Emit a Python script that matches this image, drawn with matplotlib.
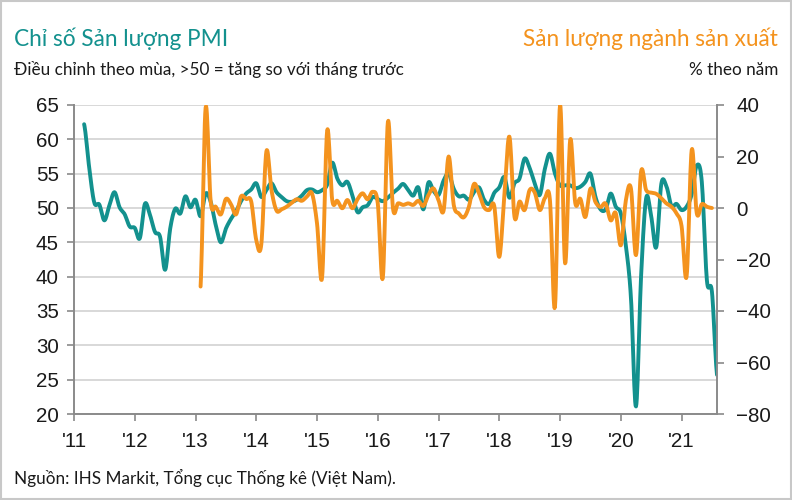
import numpy as np
import matplotlib
matplotlib.use("Agg")
import matplotlib.pyplot as plt
from matplotlib.patches import Rectangle

# ---------------- data ----------------
pmi_start = (2011, 3)          # first month of the PMI output series
pmi_output = [
    # 2011 (Mar-Dec)
    62.2, 55.9, 50.8, 50.5, 48.2, 50.4, 52.3, 50.1, 49.1, 47.3,
    # 2012
    47.1, 45.6, 50.6, 49.0, 46.5, 45.8, 41.0, 47.0, 49.9, 49.2, 51.7, 50.1,
    # 2013
    51.2, 48.8, 52.1, 50.9, 47.5, 45.0, 47.0, 48.4, 49.5, 51.0, 52.1, 52.7,
    # 2014
    53.6, 51.6, 52.6, 53.6, 52.3, 51.6, 51.0, 50.9, 51.2, 51.8, 52.6, 52.7,
    # 2015
    52.3, 52.6, 53.4, 56.6, 54.3, 53.3, 53.8, 51.8, 49.4, 50.1, 50.4, 51.6,
    # 2016
    51.3, 51.0, 51.5, 52.2, 52.8, 53.5, 52.6, 51.8, 53.0, 49.8, 53.7, 52.5,
    # 2017
    51.9, 54.0, 55.0, 52.8, 51.7, 51.8, 51.2, 52.3, 53.0, 51.2, 50.6, 52.2,
    # 2018
    53.0, 54.5, 51.5, 53.6, 54.3, 57.2, 55.8, 53.6, 51.9, 55.7, 57.9, 55.0,
    # 2019
    53.3, 53.3, 53.3, 52.9, 53.1, 53.8, 55.0, 51.6, 49.8, 49.8, 52.1, 50.2,
    # 2020
    49.2, 44.5, 37.0, 21.1, 40.0, 51.4, 48.8, 44.3, 53.5, 53.2, 50.3, 50.6,
    # 2021 (Jan-Aug)
    49.7, 50.2, 52.0, 56.2, 53.8, 39.5, 37.8, 25.7,
]

ip_start = (2013, 2)           # first month of the manufacturing output series
ip_yoy = [
    # 2013 (Feb-Dec)
    -30.5, 39.0, 2.5, 0.5, -2.5, 3.5, 1.5, -2.5, 4.5, 3.5, 2.5,
    # 2014
    -12.5, -14.0, 22.0, 7.0, -1.0, -0.5, 0.5, 2.0, 3.4, 2.8, 4.4, 5.7,
    # 2015
    -6.0, -27.0, 30.0, 3.1, 2.8, -0.1, 3.1, -0.1, 3.4, 5.7, 3.4, 6.3,
    # 2016
    1.8, -27.0, 33.5, -0.1, 1.8, 1.2, 1.8, 1.2, 2.8, 0.8, 5.0, 7.6,
    # 2017
    3.0, -1.0, 20.0, 1.2, -2.1, -3.6, 0.5, 9.3, 5.7, 0.3, -0.8, 0.8,
    # 2018
    -19.0, 5.0, 27.7, -3.4, 2.5, -0.8, 7.0, 6.0, -0.8, 3.8, 3.1, -38.3,
    # 2019
    40.0, -21.5, 26.4, 2.0, 3.6, -3.5, 7.5, 2.3, 0.4, 1.7, -4.8, -2.0,
    # 2020
    -14.5, 3.0, 7.6, -18.3, 14.1, 7.0, 6.0, 5.5, 3.8, 1.8, 0.5, -2.1,
    # 2021 (Jan-Jul)
    -7.0, -26.5, 22.5, -2.0, 1.5, 0.5, 0.0,
]

year_ticks = list(range(2011, 2022))
year_labels = ["'11", "'12", "'13", "'14", "'15", "'16", "'17", "'18", "'19", "'20", "'21"]
left_ticks = [20, 25, 30, 35, 40, 45, 50, 55, 60, 65]
right_ticks = [-80, -60, -40, -20, 0, 20, 40]

title_left = "Chỉ số Sản lượng PMI"
sub_left = "Điều chỉnh theo mùa, >50 = tăng so với tháng trước"
title_right = "Sản lượng ngành sản xuất"
sub_right = "% theo năm"
source = "Nguồn: IHS Markit, Tổng cục Thống kê (Việt Nam)."

TEAL = "#13918e"
ORANGE = "#f4931e"
GRAY = "#8a8a8a"
GRID = "#d6d6d6"


def month_axis(start, n):
    y, m = start
    return np.array([y + (m - 1 + i) / 12.0 for i in range(n)])


def smooth(x, y, steps=12):
    """Catmull-Rom rendering of a line through the given points (like a 'smoothed line')."""
    x = np.asarray(x, float)
    y = np.asarray(y, float)
    px = np.concatenate([[2 * x[0] - x[1]], x, [2 * x[-1] - x[-2]]])
    py = np.concatenate([[y[0]], y, [y[-1]]])
    t = np.linspace(0, 1, steps, endpoint=False)
    xs, ys = [], []
    for i in range(1, len(px) - 2):
        for arr, out in ((px, xs), (py, ys)):
            p0, p1, p2, p3 = arr[i - 1], arr[i], arr[i + 1], arr[i + 2]
            out.append(0.5 * ((2 * p1) + (-p0 + p2) * t
                              + (2 * p0 - 5 * p1 + 4 * p2 - p3) * t ** 2
                              + (-p0 + 3 * p1 - 3 * p2 + p3) * t ** 3))
    xs.append([x[-1]])
    ys.append([y[-1]])
    return np.concatenate(xs), np.concatenate(ys)


TEXT_FONT = ["Lato", "Noto Sans", "DejaVu Sans"]
TICK_FONT = ["Liberation Sans", "DejaVu Sans"]

fig = plt.figure(figsize=(7.92, 5.0), dpi=100)
fig.patch.set_facecolor("white")
ax = fig.add_axes([74 / 792, 1 - 414 / 500, (717 - 74) / 792, (414 - 105) / 500])
ax2 = ax.twinx()

x_pmi = month_axis(pmi_start, len(pmi_output))
x_ip = month_axis(ip_start, len(ip_yoy))

sx, sy = smooth(x_pmi, pmi_output)
ax.plot(sx, sy, color=TEAL, lw=2.8, solid_capstyle="round", solid_joinstyle="round", zorder=3)
sx2, sy2 = smooth(x_ip, ip_yoy)
ax2.plot(sx2, sy2, color=ORANGE, lw=2.8, solid_capstyle="round", solid_joinstyle="round", zorder=3)

ax.set_xlim(2011, 2011 + 127 / 12.0)
ax.set_ylim(20, 65)
ax2.set_ylim(-80, 40)

ax.set_yticks(left_ticks)
ax2.set_yticks(right_ticks)
ax.set_xticks(year_ticks)
ax.set_xticklabels(year_labels)

ax.yaxis.grid(True, color=GRID, lw=1.3)
ax.set_axisbelow(True)

for a in (ax, ax2):
    a.spines["top"].set_visible(False)
    a.set_facecolor("none")
ax.spines["right"].set_visible(False)
ax2.spines["left"].set_visible(False)
ax2.spines["bottom"].set_visible(False)
ax.spines["left"].set_color(GRAY)
ax.spines["bottom"].set_color(GRAY)
ax2.spines["right"].set_color(GRAY)
for s in (ax.spines["left"], ax.spines["bottom"], ax2.spines["right"]):
    s.set_linewidth(1.4)

ax.tick_params(axis="y", direction="out", length=5, width=1.2, color=GRAY, pad=6, labelsize=14.8)
ax.tick_params(axis="x", direction="out", length=5, width=1.2, color=GRAY, pad=8, labelsize=14.8)
ax2.tick_params(axis="y", direction="out", length=5, width=1.2, color=GRAY, pad=9, labelsize=14.8)
for lab in ax.get_xticklabels() + ax.get_yticklabels() + ax2.get_yticklabels():
    lab.set_fontfamily(TICK_FONT)
    lab.set_color("#1a1a1a")

fig.text(14 / 792, 1 - 46 / 500, title_left, color=TEAL, fontsize=16.3, family=TEXT_FONT,
         ha="left", va="baseline")
fig.text(778 / 792, 1 - 46 / 500, title_right, color=ORANGE, fontsize=16.3, family=TEXT_FONT,
         ha="right", va="baseline")
fig.text(14 / 792, 1 - 75 / 500, sub_left, color="#1a1a1a", fontsize=12.3, family=TEXT_FONT,
         ha="left", va="baseline")
fig.text(778 / 792, 1 - 75 / 500, sub_right, color="#1a1a1a", fontsize=12.3, family=TEXT_FONT,
         ha="right", va="baseline")
fig.text(14 / 792, 1 - 484 / 500, source, color="#1a1a1a", fontsize=12.3, family=TEXT_FONT,
         ha="left", va="baseline")

fig.patches.append(Rectangle((0.0015, 0.002), 0.997, 0.996, transform=fig.transFigure,
                             fill=False, edgecolor="#c8c8c8", lw=1.5))

fig.savefig("out.png", dpi=100, facecolor="white")
